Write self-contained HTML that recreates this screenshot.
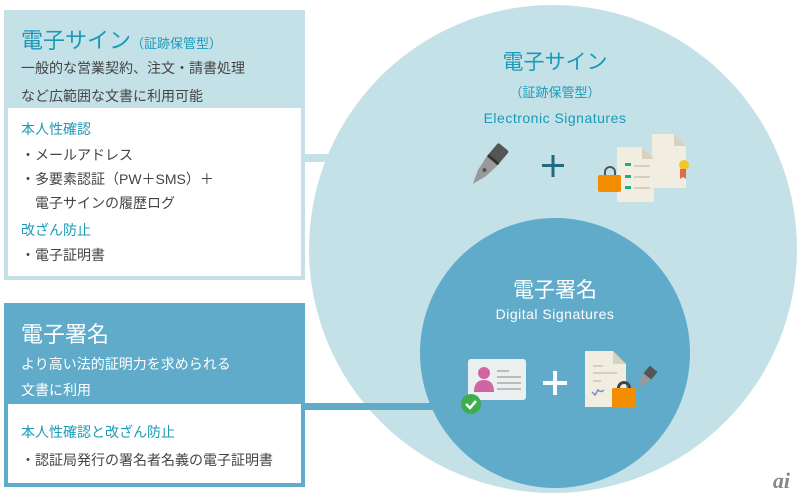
<!DOCTYPE html>
<html><head><meta charset="utf-8"><style>
body{margin:0;width:800px;height:500px;background:#fff;position:relative;overflow:hidden;font-family:"Liberation Sans","Noto Sans CJK JP",sans-serif;}
.a{position:absolute;white-space:nowrap}
</style></head><body>
<svg class="a" style="left:0;top:0" width="800" height="500">
<circle cx="553" cy="249" r="244" fill="#c4e1e8"/>
<rect x="300" y="154" width="30" height="8" fill="#c4e1e8"/>
<rect x="300" y="403" width="140" height="7" fill="#5fabc9"/>
<circle cx="555" cy="353" r="135" fill="#5fabc9"/>
<rect x="4" y="10" width="301" height="270" fill="#c4e1e8"/>
<rect x="8" y="108" width="293" height="168" fill="#fff"/>
<rect x="4" y="303" width="301" height="184" fill="#5fabc9"/>
<rect x="8" y="404" width="293" height="79" fill="#fff"/>
<!-- pen -->
<g transform="translate(487,167) rotate(40)">
<rect x="-7" y="-26" width="14" height="16" rx="2" fill="#555"/>
<rect x="-7" y="-11" width="14" height="3" fill="#333"/>
<path d="M-7,-8 L7,-8 L5,8 L0,22 L-5,8Z" fill="#999"/>
<circle cx="0" cy="4" r="2" fill="#555"/>
</g>
<rect x="542" y="164" width="22" height="3" fill="#1e6b82"/>
<rect x="551.5" y="155" width="3" height="22" fill="#1e6b82"/>
<!-- docs -->
<path d="M652,134 h22 l12,12 v42 h-34z" fill="#f1ede1"/>
<path d="M617,147 h25 l12,12 v43 h-37z" fill="#f1ede1"/>
<path d="M642,147 l12,12 h-12z" fill="#d8d2bc"/>
<path d="M674,134 l12,12 h-12z" fill="#d8d2bc"/>
<g fill="#17b28a"><rect x="625" y="163" width="6" height="3"/><rect x="625" y="175" width="6" height="3"/><rect x="625" y="186" width="6" height="3"/></g>
<g fill="#d6d0bb"><rect x="634" y="165" width="16" height="2"/><rect x="634" y="176" width="16" height="2"/><rect x="634" y="187" width="16" height="2"/></g>
<circle cx="684" cy="165" r="5" fill="#f3c623"/><path d="M680,169 v10 l3,-2 l3,2 v-10z" fill="#e06a4a"/>
<path d="M604,172 a6,6 0 0 1 12,0 v4 h-2 v-4 a4,4 0 0 0 -8,0 v4 h-2z" fill="#555"/>
<rect x="598" y="175" width="23" height="17" rx="2" fill="#f28c00"/>
<!-- id card -->
<rect x="468" y="359" width="58" height="41" rx="3" fill="#eceff0"/>
<circle cx="484" cy="373" r="6" fill="#d065a3"/><path d="M474,392 q0,-12 10,-12 q10,0 10,12z" fill="#d065a3"/>
<g fill="#bbb"><rect x="497" y="370" width="12" height="2"/><rect x="497" y="376" width="24" height="2"/><rect x="497" y="382" width="24" height="2"/><rect x="497" y="388" width="24" height="2"/></g>
<circle cx="471" cy="404" r="10" fill="#3dae4a"/><path d="M466,404 l4,4 l6,-7" stroke="#fff" stroke-width="2.5" fill="none"/>
<rect x="543" y="381" width="24" height="4" fill="#fff"/><rect x="553" y="371" width="4" height="24" fill="#fff"/>
<path d="M585,351 h28 l13,13 v43 h-41z" fill="#f1ede1"/><path d="M613,351 l13,13 h-13z" fill="#d8d2bc"/>
<g fill="#d6d0bb"><rect x="593" y="365" width="10" height="2"/><rect x="593" y="372" width="24" height="2"/><rect x="593" y="380" width="8" height="2"/></g>
<path d="M592,392 l3,3 l3,-5 q3,3 6,0" stroke="#7a8ed0" stroke-width="1.5" fill="none"/>
<g transform="translate(646,378) rotate(40)"><rect x="-5" y="-12" width="10" height="10" fill="#555"/><path d="M-5,-2 h10 l-5,14z" fill="#999"/></g>
<path d="M617,388 a7,7 0 0 1 14,0 v3 h-3 v-3 a4,4 0 0 0 -8,0 v3 h-3z" fill="#444"/>
<rect x="612" y="388" width="24" height="20" rx="2" fill="#f28c00"/>
<text x="790" y="488" font-size="22" font-style="italic" font-weight="bold" fill="#888" text-anchor="end" font-family="Liberation Serif">ai</text>
</svg>
<div class="a" style="left:21px;top:23px;font-size:22px;color:#1a9ab8">電子サイン<span style="font-size:13px">（証跡保管型）</span></div>
<div class="a" style="left:21px;top:58px;font-size:14px;color:#444">一般的な営業契約、注文・請書処理</div>
<div class="a" style="left:21px;top:86px;font-size:14px;color:#444">など広範囲な文書に利用可能</div>
<div class="a" style="left:21px;top:119px;font-size:14px;color:#1a9ab8">本人性確認</div>
<div class="a" style="left:21px;top:143px;font-size:14px;color:#444;line-height:24px">・メールアドレス<br>・多要素認証（PW＋SMS）＋<br>　電子サインの履歴ログ</div>
<div class="a" style="left:21px;top:220px;font-size:14px;color:#1a9ab8">改ざん防止</div>
<div class="a" style="left:21px;top:245px;font-size:14px;color:#444">・電子証明書</div>
<div class="a" style="left:21px;top:317px;font-size:22px;color:#fff">電子署名</div>
<div class="a" style="left:21px;top:351px;font-size:14px;color:#fff;line-height:26px">より高い法的証明力を求められる<br>文書に利用</div>
<div class="a" style="left:21px;top:422px;font-size:14px;color:#1a9ab8">本人性確認と改ざん防止</div>
<div class="a" style="left:21px;top:450px;font-size:14px;color:#444">・認証局発行の署名者名義の電子証明書</div>
<div class="a" style="left:455px;top:46px;width:200px;text-align:center;font-size:21px;color:#1a9ab8">電子サイン</div>
<div class="a" style="left:455px;top:82px;width:200px;text-align:center;font-size:13px;color:#1a9ab8">（証跡保管型）</div>
<div class="a" style="left:455px;top:110px;width:200px;text-align:center;font-size:14px;color:#1a9ab8;letter-spacing:0.5px">Electronic Signatures</div>
<div class="a" style="left:455px;top:274px;width:200px;text-align:center;font-size:21px;color:#fff">電子署名</div>
<div class="a" style="left:455px;top:306px;width:200px;text-align:center;font-size:14px;color:#fff;letter-spacing:0.5px">Digital Signatures</div>
</body></html>
